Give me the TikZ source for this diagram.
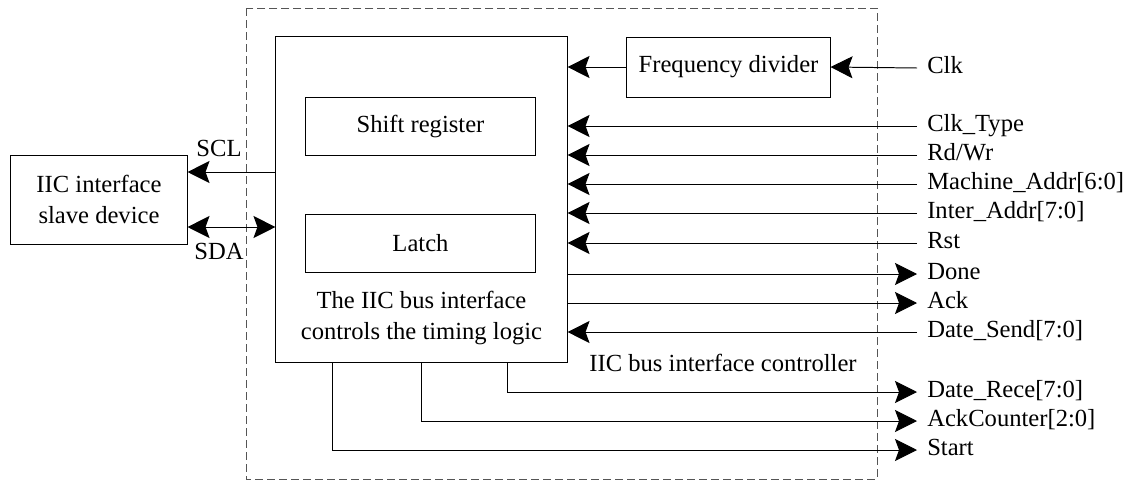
\documentclass[tikz,border=0pt]{standalone}
\usepackage{fontspec}
\setmainfont{Liberation Serif}
\usepackage{xcolor}
\usetikzlibrary{arrows.meta,positioning,calc}
\definecolor{ink}{HTML}{000000}
\definecolor{frame}{HTML}{555555}
\tikzset{
  block/.style={draw=ink,line width=0.7pt,fill=white,align=center,inner sep=0pt,font=\fontsize{17.5}{21.5}\selectfont},
  sig/.style={-{Stealth[length=0.55cm,width=0.55cm,inset=0.1cm]},line width=0.7pt,draw=ink},
  bisig/.style={{Stealth[length=0.55cm,width=0.55cm,inset=0.1cm]}-{Stealth[length=0.55cm,width=0.55cm,inset=0.1cm]},line width=0.7pt,draw=ink},
  pin/.style={anchor=west,inner xsep=0.25cm,inner ysep=0pt,text height=2ex,text depth=0.3ex,font=\fontsize{17.5}{21}\selectfont},
  tag/.style={inner sep=0pt,font=\fontsize{17.5}{21.5}\selectfont}
}

\begin{document}
\begin{tikzpicture}[x=0.025cm,y=-0.025cm]
  \useasboundingbox (0,0) rectangle (1130,481);
  % controller frame
  \draw[frame,line width=0.7pt,dash pattern=on 0.2cm off 0.1cm] (246,8) rectangle (877,479);
  \node[tag] (ctrl) at (723,363) {IIC bus interface controller};

  \node[block,minimum width=7.275cm,minimum height=8.125cm] (main) at (421.5,199.5) {};
  \node[block,minimum width=5.725cm,minimum height=1.45cm] (shift) at (420.5,126) {Shift register};
  \node[block,minimum width=5.725cm,minimum height=1.45cm] (latch) at (420.5,243) {Latch};
  \node[tag,align=center] (logic) at (421.5,318) {The IIC bus interface\\controls the timing logic};
  \node[block,minimum width=5.075cm,minimum height=1.5cm] (freq) at (728.5,67) {Frequency divider};
  \node[block,minimum width=4.4cm,minimum height=2.225cm] (slave) at (99,199.5) {IIC interface\\slave device};

  % bus side
  \coordinate (sclpin) at ($(slave.east)+(0,-27.5)$);
  \coordinate (sdapin) at ($(slave.east)+(0,27.5)$);
  \draw[sig] (main.west |- sclpin) -- (sclpin);
  \draw[bisig] (sdapin) -- (main.west |- sdapin);
  \node[tag] (scl) at (219,148) {SCL};
  \node[tag] (sda) at (219,251) {SDA};

  % clock path
  \node[pin] (clk) at (917,68) {Clk};
  \draw[sig] (clk.west) -- (freq.east);
  \draw[sig] (freq.west) -- (main.east |- freq.west);

  % inputs
  \node[pin] (clktype) at (917,126) {Clk\_Type};
  \node[pin] (rdwr) at (917,155) {Rd/Wr};
  \node[pin] (maddr) at (917,184) {Machine\_Addr[6:0]};
  \node[pin] (iaddr) at (917,213) {Inter\_Addr[7:0]};
  \node[pin] (rst) at (917,243) {Rst};
  \node[pin] (dsend) at (917,332) {Date\_Send[7:0]};
  \foreach \p in {clktype,rdwr,maddr,iaddr,rst,dsend}
    \draw[sig] (\p.west) -- (main.east |- \p.west);

  % outputs
  \node[pin] (done) at (917,274) {Done};
  \node[pin] (ack) at (917,303) {Ack};
  \foreach \p in {done,ack}
    \draw[sig] (main.east |- \p.west) -- (\p.west);

  \node[pin] (drece) at (917,392) {Date\_Rece[7:0]};
  \node[pin] (ackcnt) at (917,421) {AckCounter[2:0]};
  \node[pin] (start) at (917,450) {Start};
  \draw[sig] ($(main.south west)+(232,0)$) |- (drece.west);
  \draw[sig] ($(main.south west)+(146,0)$) |- (ackcnt.west);
  \draw[sig] ($(main.south west)+(57,0)$) |- (start.west);
\end{tikzpicture}
\end{document}
